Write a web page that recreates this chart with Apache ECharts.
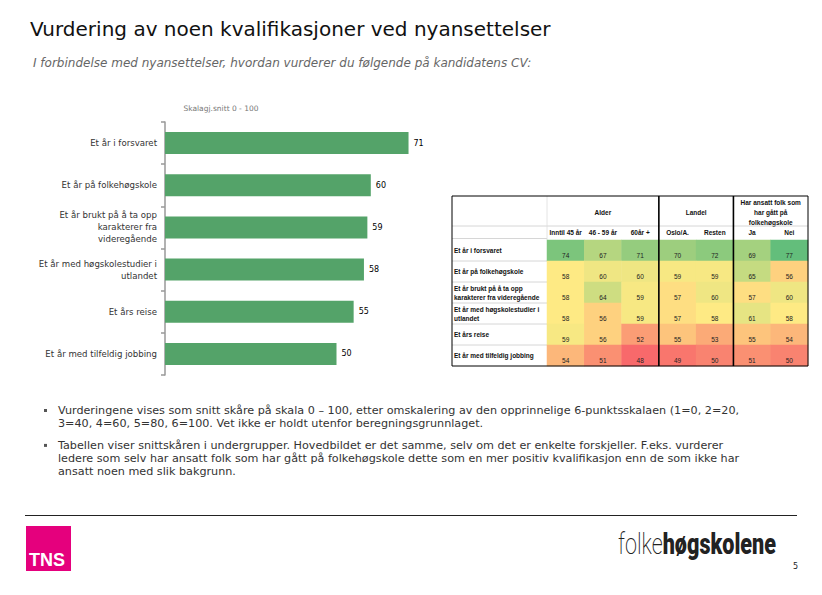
<!DOCTYPE html>
<html><head><meta charset="utf-8">
<script src="https://cdn.jsdelivr.net/npm/echarts@6/dist/echarts.min.js"></script>
<style>html,body{margin:0;padding:0;background:#fff}#c{width:822px;height:595px}</style>
</head><body><div id="c"></div>
<script>
// ---------- DATA ----------
const titleText = 'Vurdering av noen kvalifikasjoner ved nyansettelser';
const subtitleText = 'I forbindelse med nyansettelser, hvordan vurderer du følgende på kandidatens CV:';
const scaleNote = 'Skalagj.snitt 0 - 100';

const barCategories = [
  'Et år i forsvaret',
  'Et år på folkehøgskole',
  'Et år brukt på å ta opp\nkarakterer fra\nvideregående',
  'Et år med høgskolestudier i\nutlandet',
  'Et års reise',
  'Et år med tilfeldig jobbing'
];
const barValues = [71, 60, 59, 58, 55, 50];

const tableRowLabels = [
  'Et år i forsvaret',
  'Et år på folkehøgskole',
  'Et år brukt på å ta opp\nkarakterer fra videregående',
  'Et år med høgskolestudier i\nutlandet',
  'Et års reise',
  'Et år med tilfeldig jobbing'
];
const tableColumns = ['Inntil 45 år', '46 - 59 år', '60år +', 'Oslo/A.', 'Resten', 'Ja', 'Nei'];
const tableGroups = ['Alder', 'Landel', 'Har ansatt folk som\nhar gått på\nfolkehøgskole'];
const tableGroupSpans = [3, 2, 2];
const rowForsvaret      = [74, 67, 71, 70, 72, 69, 77];
const rowFolkehogskole  = [58, 60, 60, 59, 59, 65, 56];
const rowKarakterer     = [58, 64, 59, 57, 60, 57, 60];
const rowHogskole       = [58, 56, 59, 57, 58, 61, 58];
const rowReise          = [59, 56, 52, 55, 53, 55, 54];
const rowJobbing        = [54, 51, 48, 49, 50, 51, 50];
const tableValues = [rowForsvaret, rowFolkehogskole, rowKarakterer, rowHogskole, rowReise, rowJobbing];

const bullets = [
  'Vurderingene vises som snitt skåre på skala 0 – 100, etter omskalering av den opprinnelige 6-punktsskalaen (1=0, 2=20,\n3=40, 4=60, 5=80, 6=100. Vet ikke er holdt utenfor beregningsgrunnlaget.',
  'Tabellen viser snittskåren i undergrupper. Hovedbildet er det samme, selv om det er enkelte forskjeller. F.eks. vurderer\nledere som selv har ansatt folk som har gått på folkehøgskole dette som en mer positiv kvalifikasjon enn de som ikke har\nansatt noen med slik bakgrunn.'
];
const pageNumber = '5';

// ---------- COLOR SCALE (Excel-like 3 colour) ----------
const allVals = tableValues.flat();
const vMin = Math.min(...allVals), vMax = Math.max(...allVals);
const sorted = allVals.slice().sort((a,b)=>a-b);
const vMid = (sorted[Math.floor((sorted.length-1)/2)] + sorted[Math.ceil((sorted.length-1)/2)]) / 2;
const cLow = [248,105,107], cMid = [255,235,132], cHigh = [99,190,123];
function lerp(a,b,t){return a.map((v,i)=>Math.round(v+(b[i]-v)*t));}
function scaleColor(v){
  const c = v <= vMid ? lerp(cLow,cMid,(v-vMin)/(vMid-vMin)) : lerp(cMid,cHigh,(v-vMid)/(vMax-vMid));
  return 'rgb('+c.join(',')+')';
}
const stops = [];
for (let i=0;i<=60;i++){ stops.push(scaleColor(vMin + (vMax-vMin)*i/60)); }

const heatData = [];
tableValues.forEach((row, r) => row.forEach((v, c) => heatData.push([c, r, v])));

// ---------- CHART ----------
const chart = echarts.init(document.getElementById('c'), null, {renderer:'svg'});
const FONT = 'DejaVu Sans';
const TFONT = 'Liberation Sans';

const option = {
  backgroundColor: '#fff',
  animation: false,
  grid: [
    {left: 165, top: 122, width: 343, height: 253},
    {left: 547, right: 14, top: 240, height: 126}
  ],
  xAxis: [
    {gridIndex: 0, type: 'value', min: 0, max: 100, show: false},
    {gridIndex: 1, type: 'category', data: tableColumns, position: 'top',
     axisLine: {show: false}, axisTick: {show: false}, splitLine: {show: false},
     axisLabel: {fontFamily: TFONT, fontWeight: 'bold', fontSize: 6.5, color: '#111', margin: 4, interval: 0}}
  ],
  yAxis: [
    {gridIndex: 0, type: 'category', data: barCategories, inverse: true,
     axisLine: {show: true, lineStyle: {color: '#999', width: 1.5}},
     axisTick: {show: true, length: 4, lineStyle: {color: '#999', width: 1.5}},
     axisLabel: {fontFamily: FONT, fontSize: 8.6, color: '#333', margin: 8, lineHeight: 12}},
    {gridIndex: 1, type: 'category', data: tableRowLabels, inverse: true,
     axisLine: {show: false}, axisTick: {show: false},
     axisLabel: {fontFamily: TFONT, fontWeight: 'bold', fontSize: 6.5, color: '#111', align: 'left',
                 margin: 93, lineHeight: 9, padding: [5,0,0,0], interval: 0}}
  ],
  visualMap: {show: false, type: 'continuous', min: vMin, max: vMax, dimension: 2, seriesIndex: 1,
              inRange: {color: stops}},
  series: [
    {type: 'bar', xAxisIndex: 0, yAxisIndex: 0, data: barValues, barWidth: '52%',
     itemStyle: {color: '#54A369'},
     label: {show: true, position: 'right', distance: 5, fontFamily: FONT, fontSize: 8, color: '#000'}},
    {type: 'heatmap', xAxisIndex: 1, yAxisIndex: 1, data: heatData,
     itemStyle: {borderWidth: 0},
     label: {show: true, position: ['50%','72%'], align: 'center', verticalAlign: 'middle',
             fontFamily: TFONT, fontSize: 6.5, color: '#222', formatter: p => p.value[2]}}
  ]
};
chart.setOption(option);

// ---------- TABLE FRAME & DECORATION (computed from the heatmap axes) ----------
const p0 = chart.convertToPixel({xAxisIndex:1, yAxisIndex:1}, [0, 0]);
const p1 = chart.convertToPixel({xAxisIndex:1, yAxisIndex:1}, [1, 1]);
const colW = p1[0]-p0[0], rowH = p1[1]-p0[1];
const gx0 = p0[0]-colW/2, gy0 = p0[1]-rowH/2;
const gx1 = gx0 + colW*tableColumns.length, gy1 = gy0 + rowH*tableRowLabels.length;
const tx0 = 452, ty0 = 196, headMid = 226;

const g = [];
// page texts
g.push({type:'text', left: 30, top: 19, style:{text: titleText, font: '20px "DejaVu Sans"', fill:'#111'}});
g.push({type:'text', left: 33, top: 57, style:{text: subtitleText, font: 'italic 12px "DejaVu Sans"', fill:'#666'}});
g.push({type:'text', x: 221, y: 108, style:{text: scaleNote, font: '7.5px "DejaVu Sans"', fill:'#777', align:'center', verticalAlign:'middle'}});
let by = 404;
bullets.forEach((b) => {
  const lines = b.split('\n').length;
  g.push({type:'rect', shape:{x:44, y:by+5, width:3, height:3}, style:{fill:'#555'}});
  g.push({type:'text', x: 58, y: by, style:{text: b, font: '11.2px "DejaVu Sans"', fill:'#333', lineHeight: 13.2, verticalAlign:'top'}});
  by += lines*13.2 + 8.5;
});
g.push({type:'line', shape:{x1:25, y1:515.5, x2:797, y2:515.5}, style:{stroke:'#222', lineWidth:1}});
g.push({type:'rect', shape:{x:26, y:526, width:45, height:45}, style:{fill:'#E5007D'}});
g.push({type:'text', x: 29, y: 569, style:{text:'TNS', font:'bold 18px "Liberation Sans Narrow", "Liberation Sans"', fill:'#fff', verticalAlign:'bottom'}});
g.push({type:'group', x: 618, y: 559, scaleX: 0.72, children: [
  {type:'text', x: 0, y: 0, style:{text:'{a|folke}{b|høgskolene}', verticalAlign:'bottom',
    rich:{a:{font:'200 30px Roboto', fill:'#222'}, b:{font:'900 30px Roboto', fill:'#222'}}}}
]});
g.push({type:'text', x: 793, y: 566, style:{text: pageNumber, font:'8px "DejaVu Sans"', fill:'#222', verticalAlign:'middle'}});

// table header / lines
let ci = 0;
tableGroups.forEach((name, i) => {
  const span = tableGroupSpans[i];
  const cx = gx0 + colW*(ci + span/2);
  g.push({type:'text', x: cx, y: (ty0+headMid)/2 + 1, style:{text: name, font:'bold 6.5px "Liberation Sans"', fill:'#111', align:'center', verticalAlign:'middle', lineHeight: 10}});
  ci += span;
});
g.push({type:'line', shape:{x1:tx0, y1:headMid, x2:gx1, y2:headMid}, style:{stroke:'#ccc', lineWidth:0.8}});
g.push({type:'line', shape:{x1:tx0, y1:gy0-1.5, x2:gx0, y2:gy0-1.5}, style:{stroke:'#ccc', lineWidth:0.8}});
g.push({type:'line', shape:{x1:gx0, y1:ty0, x2:gx0, y2:gy0}, style:{stroke:'#ddd', lineWidth:0.8}});
for (let r = 1; r < tableRowLabels.length; r++) {
  const y = gy0 + rowH*r;
  g.push({type:'line', shape:{x1:tx0, y1:y, x2:gx0, y2:y}, style:{stroke:'#ccc', lineWidth:0.8}});
}
ci = 0;
tableGroupSpans.slice(0, -1).forEach(span => {
  ci += span;
  const x = gx0 + colW*ci;
  g.push({type:'line', z: 10, shape:{x1:x, y1:ty0, x2:x, y2:gy1}, style:{stroke:'#000', lineWidth:1.6}});
});
g.push({type:'rect', z: 10, shape:{x:tx0, y:ty0, width:gx1-tx0, height:gy1-ty0}, style:{fill:'none', stroke:'#000', lineWidth:1}});

chart.setOption({graphic: g});
</script></body></html>
